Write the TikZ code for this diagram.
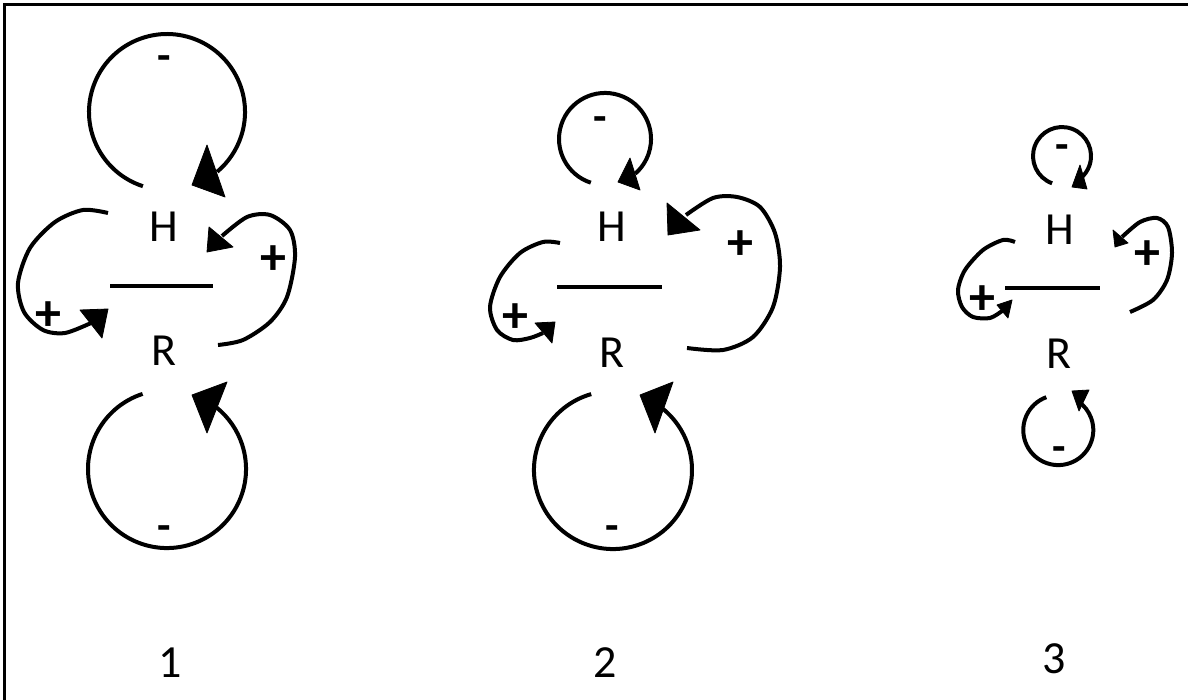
\documentclass[tikz,border=0pt]{standalone}
\usepackage{fontspec}
\setmainfont{Carlito}
\begin{document}
\begin{tikzpicture}[x=1pt,y=-1pt,
  loopline/.style={line width=4pt},
  head/.style={fill=black,draw=black,line width=0.8pt,line join=round},
  lab/.style={font=\fontsize{46}{50}\selectfont,inner sep=0pt,anchor=base},
  sign/.style={font=\bfseries\fontsize{44}{48}\selectfont,inner sep=0pt,yshift=-5pt},
  plussign/.style={font=\bfseries\fontsize{52}{56}\selectfont,inner sep=0pt,yshift=-3pt},
  barline/.style={line width=4.5pt}]
\useasboundingbox (0,0) rectangle (1188,700);
\draw[line width=3pt] (4,700) -- (4,5) -- (1188,5);

% ---------- diagram 1 ----------
\node[lab] (H1) at (164,242) {H};
\node[lab] (R1) at (164,365) {R};
\node[lab] (n1) at (170,677) {1};
\coordinate (b1l) at (110,286); \coordinate (b1r) at (213,286);
\draw[barline] (b1l) -- (b1r);
\draw[loopline] (142.9,186.2) arc[start angle=108,end angle=410,radius=78];
\fill[head] (192,185) -- (207,145) -- (225,197) -- cycle;
\node[sign] (m1t) at (164,58) {-};
\draw[loopline] (142.6,393.9) arc[start angle=252,end angle=-51,radius=79];
\fill[head] (192,395) -- (227,382) -- (207,433) -- cycle;
\node[sign] (m1b) at (164,528) {-};
\draw[loopline] plot[smooth] coordinates {(218,345) (243,340) (270,322) (287,297) (295,257) (290,230) (270,215) (247,217) (222,236)};
\fill[head] (207,252) -- (209,227) -- (233,247) -- cycle;
\node[plussign] (p1r) at (273,257) {+};
\draw[loopline] plot[smooth] coordinates {(108,213) (83,210) (55,222) (30,248) (18,283) (24,312) (43,330) (65,333) (91,323)};
\fill[head] (108,309) -- (80,310) -- (102,338) -- cycle;
\node[plussign] (p1l) at (48,313) {+};

% ---------- diagram 2 ----------
\node[lab] (H2) at (612,242) {H};
\node[lab] (R2) at (612,367) {R};
\node[lab] (n2) at (605,677) {2};
\coordinate (b2l) at (557,287); \coordinate (b2r) at (662,287);
\draw[barline] (b2l) -- (b2r);
\draw[loopline] (590.8,182.7) arc[start angle=108,end angle=409,radius=46];
\fill[head] (618,182) -- (630,158) -- (640,190) -- cycle;
\node[sign] (m2t) at (600,119) {-};
\draw[loopline] (591.2,394.1) arc[start angle=254,end angle=-51,radius=79];
\fill[head] (640,395) -- (673,382) -- (655,433) -- cycle;
\node[sign] (m2b) at (612,528) {-};
\draw[loopline] plot[smooth] coordinates {(687,348) (723,350) (753,337) (773,307) (780,267) (775,233) (760,207) (737,197) (713,198) (686,215)};
\fill[head] (668,235) -- (667,203) -- (700,230) -- cycle;
\node[plussign] (p2r) at (740,242) {+};
\draw[loopline] plot[smooth] coordinates {(560,243) (543,242) (520,253) (500,277) (490,307) (497,330) (513,340) (530,338) (543,333)};
\fill[head] (555,322) -- (535,323) -- (552,343) -- cycle;
\node[plussign] (p2l) at (515,315) {+};

% ---------- diagram 3 ----------
\node[lab] (H3) at (1060,245) {H};
\node[lab] (R3) at (1059,368) {R};
\node[lab] (n3) at (1054,673) {3};
\coordinate (b3l) at (1005,288); \coordinate (b3r) at (1100,288);
\draw[barline] (b3l) -- (b3r);
\draw[loopline] (1052.1,183.3) arc[start angle=110,end angle=410,radius=29];
\fill[head] (1072,187) -- (1080,165) -- (1087,189) -- cycle;
\node[sign] (m3t) at (1062,147) {-};
\draw[loopline] (1046.3,397.2) arc[start angle=250,end angle=-55,radius=35];
\fill[head] (1072,391) -- (1089,390) -- (1079,411) -- cycle;
\node[sign] (m3b) at (1059,449) {-};
\draw[loopline] plot[smooth] coordinates {(1130,312) (1153,300) (1167,280) (1172,253) (1168,227) (1157,218) (1140,222) (1122,237)};
\fill[head] (1115,247) -- (1113,230) -- (1128,243) -- cycle;
\node[plussign] (p3r) at (1147,252) {+};
\draw[loopline] plot[smooth] coordinates {(1015,242) (1003,240) (983,250) (965,270) (958,290) (962,307) (973,317) (990,318) (1002,311)};
\fill[head] (1012,300) -- (997,305) -- (1008,318) -- cycle;
\node[plussign] (p3l) at (982,297) {+};
\end{tikzpicture}
\end{document}
